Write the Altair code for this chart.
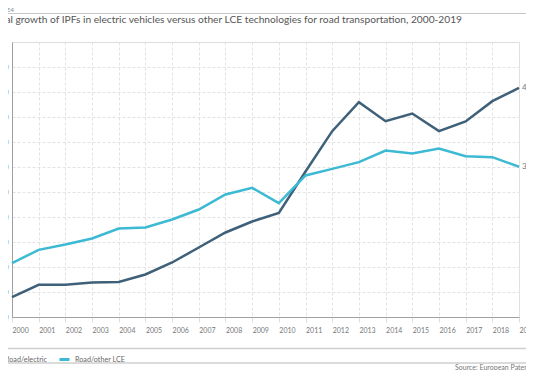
import altair as alt
import pandas as pd

years = list(range(2000, 2020))
electric = [396, 643, 643, 690, 700, 850, 1090, 1390, 1690, 1910,
            2083, 2910, 3717, 4297, 3917, 4070, 3717, 3910, 4317, 4584]
other_lce = [1077, 1343, 1450, 1570, 1770, 1790, 1950, 2150, 2450, 2583,
             2277, 2830, 2963, 3097, 3330, 3270, 3370, 3217, 3197, 3005]
series_names = ["Road/electric", "Road/other LCE"]
series_colors = ["#3f6079", "#3cb9d3"]
y_ticks = list(range(0, 5001, 500))

title_text = "Figure E4"
subtitle_text = ("Global growth of IPFs in electric vehicles versus other LCE "
                 "technologies for road transportation, 2000-2019")
source_text = "Source: European Patent Office"

df = pd.DataFrame({
    "year": years * 2,
    "value": electric + other_lce,
    "series": [series_names[0]] * len(years) + [series_names[1]] * len(years),
})
end_df = df[df["year"] == years[-1]].copy()
end_df["label"] = end_df["value"].map(lambda v: f"{v:,}".replace(",", " "))

W, H = 507, 275
FONT = "Lato"

color = alt.Color(
    "series:N",
    scale=alt.Scale(domain=series_names, range=series_colors),
    legend=alt.Legend(
        orient="none", legendX=-24, legendY=311, direction="horizontal",
        title=None, symbolType="stroke", symbolSize=100, symbolStrokeWidth=3,
        labelFontSize=7.2, labelColor="#666", labelFont=FONT, columnPadding=6,
        labelOffset=4, padding=0, gridAlign="none",
    ),
)

x = alt.X(
    "year:Q",
    scale=alt.Scale(domain=[years[0], years[-1]], nice=False, zero=False),
    axis=alt.Axis(
        values=years, tickCount=len(years), format="d", title=None,
        labelAlign="left", labelFontSize=7, labelColor="#777", labelFont=FONT,
        labelPadding=4, grid=True, gridDash=[3, 2], gridColor="#e2e2e2",
        domainColor="#a0a0a0", tickColor="#dddddd", tickSize=5,
        labelOverlap=False, labelFlush=False,
    ),
)
y = alt.Y(
    "value:Q",
    scale=alt.Scale(domain=[0, 5500], nice=False),
    axis=alt.Axis(
        values=y_ticks, tickCount=len(y_ticks), title=None, format=",d",
        labelFontSize=7, labelColor="#777", labelFont=FONT, labelPadding=4,
        ticks=False, grid=True, gridDash=[3, 2], gridColor="#e2e2e2",
        domainColor="#a0a0a0", labelOverlap=False,
    ),
)

lines = alt.Chart(df).mark_line(strokeWidth=2.5).encode(x=x, y=y, color=color)

end_labels = alt.Chart(end_df).mark_text(
    align="left", dx=3, fontSize=8, color="#777", font=FONT
).encode(x="year:Q", y="value:Q", text="label:N")

one = pd.DataFrame({"k": [0]})
top_rule = alt.Chart(one).mark_rule(color="#c8c8c8", strokeWidth=1).encode(
    x=alt.value(-20), x2=alt.value(540), y=alt.value(-28.5))
leg_rule1 = alt.Chart(one).mark_rule(color="#cfcfcf", strokeWidth=1.5).encode(
    x=alt.value(-20), x2=alt.value(540), y=alt.value(306.5))
leg_rule2 = alt.Chart(one).mark_rule(color="#cfcfcf", strokeWidth=1.5).encode(
    x=alt.value(-20), x2=alt.value(540), y=alt.value(321))

fig_label = alt.Chart(one).mark_text(
    align="right", baseline="alphabetic", fontSize=6.5, color="#888", font=FONT
).encode(x=alt.value(2), y=alt.value(-30), text=alt.value(title_text))

title = alt.Chart(one).mark_text(
    align="right", baseline="middle", fontSize=10.2, color="#555", font=FONT
).encode(x=alt.value(450), y=alt.value(-22.5), text=alt.value(subtitle_text))

source = alt.Chart(one).mark_text(
    align="left", baseline="middle", fontSize=7, color="#777", font=FONT
).encode(x=alt.value(443), y=alt.value(326), text=alt.value(source_text))

chart = alt.layer(
    top_rule, leg_rule1, leg_rule2, lines, end_labels, fig_label, title, source
).properties(
    width=W, height=H,
    autosize=alt.AutoSizeParams(type="none"),
    padding={"left": 4, "top": 34, "right": 7, "bottom": 53},
).configure_view(stroke=None).configure(font=FONT)

chart.save("out.html", embed_options={"renderer": "svg", "actions": False})
